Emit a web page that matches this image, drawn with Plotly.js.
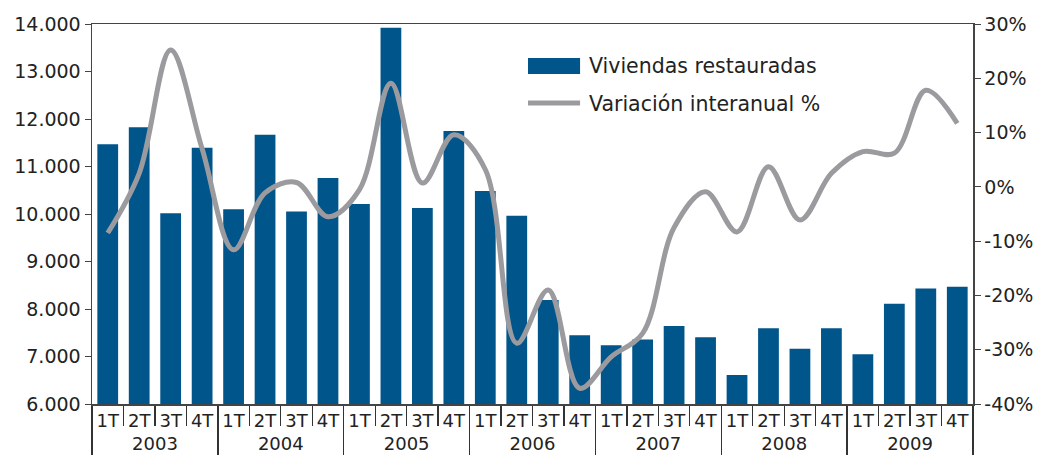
<!DOCTYPE html>
<html>
<head>
<meta charset="utf-8">
<script src="https://cdn.plot.ly/plotly-3.0.1.min.js"></script>
<style>html,body{margin:0;padding:0;background:#fff;}#chart{width:1043px;height:461px;}</style>
</head>
<body>
<div id="chart"></div>
<script>
const years = ['2003','2004','2005','2006','2007','2008','2009'];
const quarters = ['1T','2T','3T','4T'];
const viviendas = [11470, 11825, 10015, 11395, 10100, 11670, 10055, 10760,
                   10210, 13920, 10125, 11745, 10485, 9965, 8190, 7445,
                   7235, 7360, 7640, 7405, 6610, 7595, 7165, 7595,
                   7045, 8110, 8430, 8470];
const variacion = [-8.5, 2.5, 25.2, 7.0, -11.6, -1.1, 0.8, -5.5,
                   -0.5, 19.1, 0.7, 9.6, 3.2, -28.8, -19.0, -37.1,
                   -31.3, -27.0, -7.5, -0.9, -8.3, 3.7, -6.1, 2.5,
                   6.5, 6.2, 17.8, 11.7];
const serieNames = ['Viviendas restauradas', 'Variación interanual %'];
const pctTickVals = [-40, -30, -20, -10, 0, 10, 20, 30];
const pctTickText = ['-40%', '-30%', '-20%', '-10%', '0%', '10%', '20%', '30%'];

const xYears = [], xQuarters = [];
years.forEach(y => quarters.forEach(q => { xYears.push(y); xQuarters.push(q); }));

const FONT = 'DejaVu Sans, Verdana, sans-serif';
const barColor = '#00558b';
const lineColor = '#9b9b9f';

const traces = [
  {type:'bar', x:[xYears, xQuarters], y:viviendas, name:serieNames[0],
   marker:{color:barColor}, yaxis:'y'},
  {type:'scatter', mode:'lines', x:[xYears, xQuarters], y:variacion, name:serieNames[1],
   line:{color:lineColor, width:5, shape:'spline', smoothing:1}, yaxis:'y2'}
];

const layout = {
  width:1043, height:461,
  margin:{l:92, r:70, t:24, b:57},
  paper_bgcolor:'#fff', plot_bgcolor:'#fff',
  separators:',.',
  showlegend:false,
  bargap:0.34,
  font:{family:FONT, size:19, color:'#222'},
  xaxis:{type:'multicategory', showline:true, linecolor:'#444', linewidth:1.5, mirror:true,
         ticks:'outside', tickson:'boundaries', ticklen:20, tickcolor:'#333', tickwidth:1.3,
         tickangle:0,
         showdividers:true, dividercolor:'#333', dividerwidth:1.3,
         showgrid:false, zeroline:false, tickfont:{family:FONT, size:18, color:'#222'}},
  yaxis:{range:[6000,14000], dtick:1000, tickformat:',d', showline:true, linecolor:'#444', linewidth:1.5,
         ticks:'outside', ticklen:6, tickcolor:'#444', showgrid:false, zeroline:false,
         tickfont:{family:FONT, size:19, color:'#222'}},
  yaxis2:{range:[-40,30], tickmode:'array', tickvals:pctTickVals, ticktext:pctTickText,
          overlaying:'y', side:'right', showline:true,
          linecolor:'#444', linewidth:1.5, ticks:'outside', ticklen:6, tickcolor:'#444',
          showgrid:false, zeroline:false, tickfont:{family:FONT, size:19, color:'#222'}},
  shapes:[
    {type:'rect', xref:'paper', yref:'paper', x0:0.4949, x1:0.554, y0:0.8684, y1:0.9105,
     fillcolor:barColor, line:{width:0}},
    {type:'line', xref:'paper', yref:'paper', x0:0.4949, x1:0.554, y0:0.792, y1:0.792,
     line:{color:lineColor, width:5}}
  ],
  annotations:[
    {xref:'paper', yref:'paper', x:0.5619, y:0.8895, xanchor:'left', yanchor:'middle', showarrow:false,
     text:serieNames[0], font:{family:FONT, size:20.5, color:'#222'}},
    {xref:'paper', yref:'paper', x:0.5619, y:0.7895, xanchor:'left', yanchor:'middle', showarrow:false,
     text:serieNames[1], font:{family:FONT, size:20.5, color:'#222'}}
  ]
};

Plotly.newPlot('chart', traces, layout, {displayModeBar:false, staticPlot:true});
</script>
</body>
</html>
